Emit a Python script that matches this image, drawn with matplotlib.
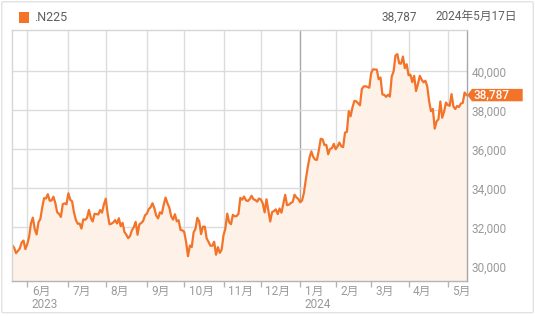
import numpy as np
import matplotlib
matplotlib.use("Agg")
import matplotlib.pyplot as plt
from matplotlib import patches, transforms

plt.rcParams['font.family'] = ['Roboto', 'Noto Sans CJK JP', 'DejaVu Sans']

# ---- data -------------------------------------------------------------
series_name = ".N225"
last_label = "38,787"
date_label = "2024年5月17日"

# trading days per month (May-2023 partial ... May-2024 partial)
month_trading_days = [8, 22, 20, 22, 20, 21, 20, 21, 19, 19, 20, 21, 11]
month_labels = ["6月", "7月", "8月", "9月", "10月", "11月", "12月",
                "1月", "2月", "3月", "4月", "5月"]
year_labels = {"6月": "2023", "1月": "2024"}

closes = [
    # May 2023
    31086, 30957, 30682, 30801, 30916, 31233, 31328, 30887,
    # Jun
    31148, 31524, 32217, 32506, 31913, 31641, 32265, 32434, 33018, 33502, 33485,
    33706, 33370, 33388, 33575, 33264, 32781, 32698, 32538, 33193, 33234, 33189,
    # Jul
    33753, 33422, 33338, 32773, 32388, 32189, 32203, 31943, 32419, 32391, 32493,
    32896, 32490, 32304, 32700, 32682, 32668, 32891, 32759, 33172,
    # Aug
    33476, 32707, 32159, 32192, 32254, 32377, 32204, 32473, 32059, 32238, 31766,
    31626, 31450, 31565, 31856, 32010, 32287, 31624, 32169, 32226, 32333, 32619,
    # Sep
    32710, 32939, 33036, 33241, 32991, 32606, 32467, 32776, 32707, 33168, 33533,
    33242, 33023, 32571, 32402, 32678, 32315, 32371, 31872, 31857,
    # Oct
    31759, 31237, 30526, 31075, 30994, 31746, 31936, 32494, 32315, 31659, 32040,
    32042, 31430, 31259, 31062, 31062, 31269, 30602, 30991, 30696, 30858,
    # Nov
    31601, 31949, 32708, 32271, 32166, 32646, 32568, 32585, 32695, 33519, 33424,
    33585, 33388, 33354, 33451, 33625, 33447, 33408, 33321, 33486,
    # Dec
    33431, 33231, 32775, 33445, 32858, 32307, 32791, 32843, 32926, 32686, 32970,
    32758, 33219, 33675, 33140, 33169, 33254, 33305, 33681, 33539, 33464,
    # Jan 2024
    33288, 33377, 33763, 34441, 35049, 35577, 35901, 35619, 35477, 35466, 35963,
    36546, 36517, 36226, 36236, 35751, 36026, 36066, 36286,
    # Feb
    36011, 36158, 36354, 36160, 36119, 36863, 36897, 37963, 37703, 38157, 38487,
    38470, 38363, 38262, 39098, 39233, 39239, 39208, 39166,
    # Mar
    39911, 40109, 40097, 40090, 39598, 39688, 38820, 38797, 38695, 38807, 38708,
    39740, 40003, 40815, 40888, 40414, 40398, 40762, 40168, 40369,
    # Apr
    39803, 39838, 39451, 39773, 38992, 39347, 39773, 39581, 39442, 39523, 39232,
    38471, 37961, 38079, 37068, 37438, 37552, 38460, 37628, 37934, 38405,
    # May
    38274, 38236, 38835, 38202, 38073, 38229, 38179, 38356, 38385, 38920, 38787,
]

y_ticks = [30000, 32000, 34000, 36000, 38000, 40000]
y_limits = (29280, 42150)

# ---- style ------------------------------------------------------------
LINE = '#f37329'
FILL = '#fef1e8'
GRID = '#dcdcdc'
YEAR_GRID = '#a8a8a8'
TICK_TXT = '#9a9a9a'
HEAD_TXT = '#5f5f5f'

W, H = 535, 316
fig = plt.figure(figsize=(W / 100, H / 100), dpi=100)
fig.patch.set_facecolor('white')

left_px, right_px, top_px, bottom_px = 12.3, 466.5, 29.5, 280.5
ax = fig.add_axes([left_px / W, 1 - bottom_px / H,
                   (right_px - left_px) / W, (bottom_px - top_px) / H])

x = np.arange(len(closes))
y = np.array(closes, dtype=float)
ax.set_xlim(0, len(closes) - 1)
ax.set_ylim(*y_limits)

month_starts = np.cumsum(month_trading_days)[:-1]

# grid
for lab, ms in zip(month_labels, month_starts):
    ax.axvline(ms, color=YEAR_GRID if lab == "1月" else GRID, lw=1.0, zorder=1)
for yt in y_ticks:
    ax.axhline(yt, color=GRID, lw=1.0, zorder=1)

ax.fill_between(x, y, y_limits[0], color=FILL, lw=0, zorder=2)
ax.plot(x, y, color=LINE, lw=1.6, zorder=3, solid_joinstyle='round')

# spines
for s in ['top', 'left']:
    ax.spines[s].set_color('#d6d6d6')
ax.spines['right'].set_color('#a6a6a6')
ax.spines['bottom'].set_color('#b4b4b4')
for s in ax.spines.values():
    s.set_linewidth(1.0)
    s.set_zorder(4)

# y axis on right
ax.yaxis.tick_right()
ax.set_yticks(y_ticks)
ax.set_yticklabels([f"{v:,}" for v in y_ticks])
ax.tick_params(axis='y', length=0, pad=3.5, labelsize=8.5, labelcolor=TICK_TXT)

# x ticks
ax.set_xticks(month_starts)
ax.set_xticklabels([])
ax.tick_params(axis='x', which='major', length=4, width=1, color='#b4b4b4')
year_idx = [ms for lab, ms in zip(month_labels, month_starts) if lab == "1月"]
ax.set_xticks(year_idx, minor=True)
ax.tick_params(axis='x', which='minor', length=7, width=1, color='#b4b4b4')

blend = transforms.blended_transform_factory(ax.transData, ax.transAxes)
tr_m = transforms.offset_copy(blend, fig=fig, x=4.6, y=-10.5, units='dots')
tr_y = transforms.offset_copy(blend, fig=fig, x=4.6, y=-24.0, units='dots')
for lab, ms in zip(month_labels, month_starts):
    ax.text(ms, 0, lab, transform=tr_m, ha='left', va='center',
            fontsize=8.5, color=TICK_TXT)
    if lab in year_labels:
        ax.text(ms, 0, year_labels[lab], transform=tr_y, ha='left',
                va='center', fontsize=8.5, color=TICK_TXT)

# price tag at last value
fig.canvas.draw()
_, ypx = ax.transData.transform((x[-1], y[-1]))
tip = right_px + 0.8
x0, x1 = right_px + 5.5, 522.7
hh = 6.2
pts = [(tip, ypx), (x0, ypx + hh), (x1, ypx + hh), (x1, ypx - hh), (x0, ypx - hh)]
pts = [(px / W, py / H) for px, py in pts]
fig.patches.append(patches.Polygon(pts, closed=True, transform=fig.transFigure,
                                   facecolor=LINE, edgecolor='none', zorder=5))
fig.text((x0 + 1.5) / W, ypx / H, last_label, color='white', fontsize=8.5,
         ha='left', va='center', fontweight='medium', zorder=6)

# header
fig.patches.append(patches.Rectangle((19 / W, 1 - 22.7 / H), 10.3 / W, 10.7 / H,
                                     transform=fig.transFigure, facecolor=LINE,
                                     edgecolor='none'))
fig.text(34 / W, 1 - 17.5 / H, series_name, fontsize=9, color=HEAD_TXT,
         ha='left', va='center')
fig.text(381.7 / W, 1 - 17 / H, last_label, fontsize=8.5, color=HEAD_TXT,
         ha='left', va='center')
fig.text(435 / W, 1 - 16.5 / H, date_label, fontsize=8.5, color=HEAD_TXT,
         ha='left', va='center')

# outer frame
fig.patches.append(patches.FancyBboxPatch((1.7 / W, 3.3 / H), (531.6) / W, (311.0) / H,
                                          boxstyle='round,pad=0,rounding_size=0.004',
                                          transform=fig.transFigure, facecolor='none',
                                          edgecolor='#e3e3e3', lw=1.0))

fig.savefig('out.png', dpi=100, facecolor='white')
